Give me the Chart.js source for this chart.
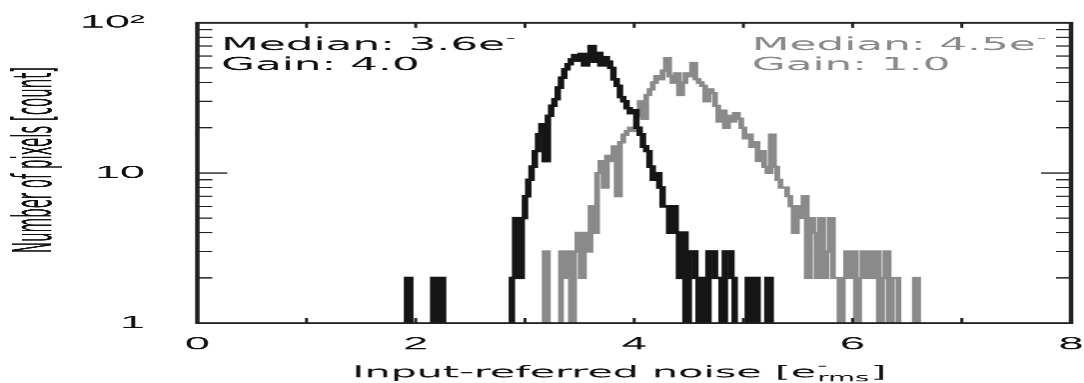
<!DOCTYPE html>
<html>
<head>
<meta charset="utf-8">
<script src="https://cdn.jsdelivr.net/npm/chart.js@4"></script>
<style>
  html, body { margin: 0; padding: 0; background: #fff; }
</style>
</head>
<body>
<!-- Drawn at 434 wide and stretched to 1084, like the original figure. -->
<canvas id="noiseChart" width="434" height="383" style="display:block;width:1084px;height:383px"></canvas>
<script>

// Histogram bins: width in e- rms, and where each series starts.
const binWidth = 0.03;
const gain4Start = 1.92;
const gain1Start = 3.18;

// Pixel counts per bin (0 = empty bin).
const gain4Counts = [
  0, 2, 0, 0, 0, 0, 0, 0, 0, 2,
  0, 2, 0, 0, 0, 0, 0, 0, 0, 0,
  0, 0, 0, 0, 0, 0, 0, 0, 0, 0,
  0, 0, 0, 2, 5, 2, 5, 7, 9, 11,
  14, 18, 21, 12, 24, 28, 31, 37, 43, 49,
  53, 57, 61, 56, 62, 52, 58, 70, 55, 63,
  52, 59, 55, 50, 42, 38, 32, 30, 27, 25,
  26, 20, 18, 15, 14, 11, 9, 10, 8, 6,
  6, 4, 6, 4, 2, 4, 1, 3, 3, 2,
  0, 2, 0, 3, 3, 2, 2, 0, 3, 3,
  2, 0, 0, 0, 0, 2, 0, 2, 0, 0,
  0, 2, 0
];

const gain1Counts = [
  0, 3, 0, 0, 0, 0, 3, 2, 3, 0,
  3, 4, 2, 4, 3, 6, 4, 10, 12, 8,
  13, 12, 15, 7, 16, 18, 19, 20, 19, 24,
  30, 23, 33, 36, 40, 44, 42, 48, 58, 44,
  40, 46, 33, 40, 46, 44, 54, 42, 40, 38,
  30, 36, 34, 28, 22, 26, 20, 24, 22, 25,
  23, 20, 17, 18, 15, 16, 12, 14, 11, 10,
  18, 11, 9, 8, 8, 7, 6, 4, 6, 5,
  7, 2, 5, 4, 2, 5, 2, 3, 5, 2,
  2, 0, 2, 3, 2, 3, 0, 2, 3, 2,
  3, 2, 3, 0, 2, 3, 0, 2, 2, 0,
  0, 0, 0, 0, 2, 0
];

// Axis ticks.
const xTickMarks = [1, 2, 3, 4, 5, 6, 7];
const yTickValues = [1, 10, 100];
const yTickLabels = ['1', '10', '10\u00b2'];
const yMinorTicks = [2, 3, 4, 5, 6, 7, 8, 9, 20, 30, 40, 50, 60, 70, 80, 90];

// Text in the plot.
const notes = [
  { lines: ['Median: 3.6e', 'Gain: 4.0'], x: 88.5, color: '#111' },
  { lines: ['Median: 4.5e', 'Gain: 1.0'], x: 301, color: '#8a8a8a' }
];
const yTitle = 'Number of pixels [count]';
const xTitle = 'Input-referred noise [e';

const inkColor = '#151515';
const greyColor = '#8a8a8a';
const tickFont = '"Liberation Sans", Arial, sans-serif';
const textFont = '"DejaVu Sans", Verdana, sans-serif';
const narrowFont = '"Liberation Sans Narrow", "DejaVu Sans Condensed", sans-serif';

// Empty bins sit below the axis so they get clipped away.
let histPoints = function (start, counts) {
  let pts = [];
  counts.forEach(function (c, i) {
    pts.push({ x: start + i * binWidth, y: c > 0 ? c : 0.5 });
  });
  pts.push({ x: start + counts.length * binWidth, y: 0.5 });
  return pts;
};

// Frame, inward ticks, notes and the axis titles.
const framePlugin = {
  id: 'frame',
  afterDraw(chart) {
    const ctx = chart.ctx;
    const a = chart.chartArea;
    const x = chart.scales.x, y = chart.scales.y;
    ctx.save();
    ctx.strokeStyle = '#222';
    ctx.lineWidth = 1.2;
    ctx.beginPath();
    xTickMarks.forEach(function (v) {
      const px = x.getPixelForValue(v);
      ctx.moveTo(px, a.bottom); ctx.lineTo(px, a.bottom - 5);
      ctx.moveTo(px, a.top); ctx.lineTo(px, a.top + 5);
    });
    yMinorTicks.concat([10]).forEach(function (v) {
      const py = y.getPixelForValue(v);
      const len = v === 10 ? 12 : 6;
      ctx.moveTo(a.left, py); ctx.lineTo(a.left + len, py);
      ctx.moveTo(a.right, py); ctx.lineTo(a.right - len, py);
    });
    ctx.stroke();
    ctx.lineWidth = 1.8;
    ctx.strokeRect(a.left, a.top, a.right - a.left, a.bottom - a.top);

    // Median / gain notes.
    ctx.textBaseline = 'alphabetic';
    ctx.textAlign = 'left';
    notes.forEach(function (n) {
      ctx.fillStyle = n.color;
      ctx.font = '17.5px ' + textFont;
      ctx.fillText(n.lines[0], n.x, 50);
      const w = ctx.measureText(n.lines[0]).width;
      ctx.fillText(n.lines[1], n.x, 70);
      ctx.font = '11px ' + textFont;
      ctx.fillText('-', n.x + w + 0.3, 42);
    });

    // x title with e- rms.
    ctx.fillStyle = '#111';
    ctx.font = '16.5px ' + textFont;
    const w1 = ctx.measureText(xTitle).width;
    const w3 = ctx.measureText(']').width;
    ctx.font = '11px ' + textFont;
    const w2 = ctx.measureText('rms').width;
    let tx = 248 - (w1 + w2 + w3 + 1) / 2;
    ctx.font = '16.5px ' + textFont;
    ctx.fillText(xTitle, tx, 377);
    ctx.fillText(']', tx + w1 + w2 + 1, 377);
    ctx.font = '11px ' + textFont;
    ctx.fillText('-', tx + w1 + 0.5, 369);
    ctx.fillText('rms', tx + w1 + 0.5, 381);

    // y title, squeezed along its length like the original.
    ctx.save();
    ctx.translate(20.5, 160);
    ctx.rotate(-Math.PI / 2);
    ctx.font = '21px ' + narrowFont;
    const wt = ctx.measureText(yTitle).width;
    ctx.scale(186 / wt, 1);
    ctx.textAlign = 'center';
    ctx.fillText(yTitle, 0, 0);
    ctx.restore();
    ctx.restore();
  }
};

let config = {
  type: 'line',
  data: {
    datasets: [{
      label: 'Gain 4.0',
      data: histPoints(gain4Start, gain4Counts),
      borderColor: inkColor,
      borderWidth: 2.6,
      stepped: 'after',
      pointRadius: 0,
      clip: 0
    }, {
      label: 'Gain 1.0',
      data: histPoints(gain1Start, gain1Counts),
      borderColor: greyColor,
      borderWidth: 2.3,
      stepped: 'after',
      pointRadius: 0,
      clip: 0
    }]
  },
  options: {
    responsive: false,
    devicePixelRatio: 2.5,
    animation: false,
    layout: { padding: { top: 22.7, right: 5.2, bottom: 0, left: 0 } },
    plugins: { legend: { display: false }, tooltip: { enabled: false } },
    scales: {
      x: {
        type: 'linear',
        min: 0,
        max: 8,
        // invisible tick marks push the labels down without adding side padding
        grid: { display: true, drawOnChartArea: false, drawTicks: true, tickLength: 10.5, color: 'rgba(0,0,0,0)' },
        border: { display: false },
        ticks: {
          stepSize: 2,
          maxRotation: 0,
          padding: 0,
          color: '#111',
          font: { family: tickFont, size: 18 }
        },
        afterFit: function (s) { s.height = 60; }
      },
      y: {
        type: 'logarithmic',
        min: 1,
        max: 100,
        grid: { display: true, drawOnChartArea: false, drawTicks: true, tickLength: 21, color: 'rgba(0,0,0,0)' },
        border: { display: false },
        afterBuildTicks: function (s) {
          s.ticks = yTickValues.map(function (v) { return { value: v }; });
        },
        ticks: {
          padding: 0,
          color: '#111',
          font: { family: tickFont, size: 18 },
          callback: function (v, i) { return yTickLabels[i]; }
        },
        afterFit: function (s) { s.width = 79; }
      }
    }
  },
  plugins: [framePlugin]
};

let ctx = document.getElementById('noiseChart').getContext('2d');
let noiseChart = new Chart(ctx, config);
</script>
</body>
</html>
